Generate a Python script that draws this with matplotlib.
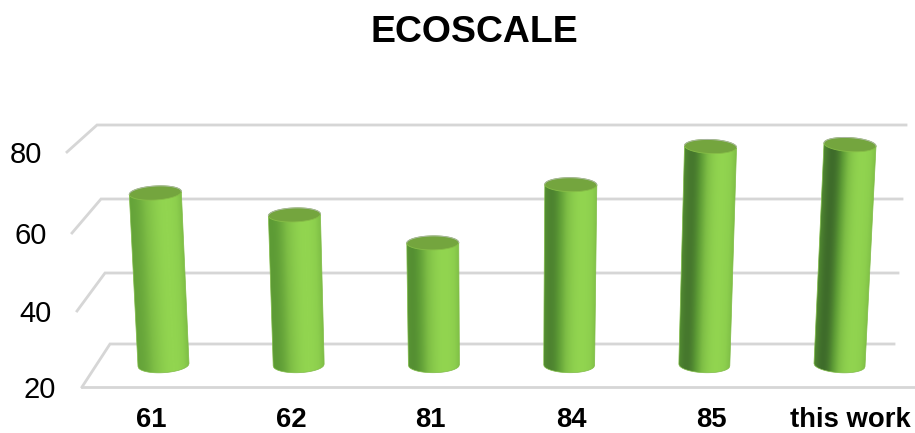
import numpy as np
import matplotlib
matplotlib.use('Agg')
import matplotlib.pyplot as plt
from matplotlib.colors import LinearSegmentedColormap
from matplotlib.patches import Polygon

categories = ['61', '62', '81', '84', '85', 'this work']
values = [65.5, 59.7, 52.3, 67.7, 77.8, 78.3]
y_ticks = [20, 40, 60, 80]

plt.rcParams['font.family'] = ['Liberation Sans', 'DejaVu Sans']

W, H = 915, 433
fig = plt.figure(figsize=(W / 100, H / 100), dpi=100)

# axes box in pixels, x data is the category index, y data is the value on the bars' plane
left, right, bottom, top = 80, 895, 387, 100
ax = fig.add_axes([left / W, 1 - bottom / H, (right - left) / W, (bottom - top) / H])
x0, dx = 163.5, 135.2
y20, dy = 365.0, 3.78
xlim = ((left - x0) / dx, (right - x0) / dx)
ylim = (20 + (y20 - bottom) / dy, 20 + (y20 - top) / dy)
for s in ax.spines.values():
    s.set_visible(False)


def px_x(px):
    return (px - x0) / dx


def px_y(px):
    return 20 + (y20 - px) / dy


# walls: back line height and ends for each tick
grid = '#d6d6d6'
back_y = {20: 344, 40: 273, 60: 199, 80: 125}
back_l = {20: 110, 40: 105, 60: 101, 80: 97}
back_r = {20: 894, 40: 898, 60: 902, 80: 906}
front_y = {20: 387, 40: 311, 60: 233, 80: 152}
front_x = {20: 82, 40: 77, 60: 72, 80: 67}
label_r = {20: 56, 40: 52, 60: 47, 80: 42}
for v in y_ticks:
    ax.plot([px_x(front_x[v]), px_x(back_l[v]), px_x(back_r[v])],
            [px_y(front_y[v]), px_y(back_y[v]), px_y(back_y[v])],
            color=grid, lw=2.0, clip_on=False, solid_joinstyle='miter', zorder=1)
ax.plot([px_x(82), px_x(915)], [px_y(387), px_y(387)], color=grid, lw=2.0, clip_on=False, zorder=1)

# cylinders
cmap = LinearSegmentedColormap.from_list('cyl', ['#3d6a2a', '#5c9a35', '#7dbd45', '#92d550'])
half_w = 25.5 / dx
minor = 7.0 / dy
u = np.linspace(-1, 1, 81)

for i, v in enumerate(values):
    off = i - 2.5
    lean = 0.072 * off / dx        # sideways drift per unit of height
    tilt = 0.6 * off / dy          # ellipse tilt at the rim
    cx_top = i + lean * (v - 20)
    hw_top = half_w * 1.02

    low = 20 - minor * np.sqrt(1 - u ** 2) * 1.1 - tilt * u
    xs_bot = i + half_w * u
    xs_top = cx_top + hw_top * u
    outline = np.column_stack([np.r_[xs_bot, xs_top[::-1]], np.r_[low, (v - tilt * u)[::-1]]])
    body = Polygon(outline, closed=True, fc='none', ec='#7fbb46', lw=0.5,
                   clip_on=False, zorder=3.5)
    ax.add_patch(body)

    # shade every pixel by its place across the cylinder
    gx = np.linspace(outline[:, 0].min(), outline[:, 0].max(), 120)
    gy = np.linspace(low.min(), v + 1, 200)
    XX, YY = np.meshgrid(gx, gy)
    frac = (YY - 20) / (v - 20)
    U = (XX - (i + lean * (YY - 20))) / (half_w + (hw_top - half_w) * frac)
    depth = 0.16 + 0.095 * i
    dark_at = -0.85 + 0.05 * i
    shade = 0.45 * (1 - np.exp(-((U - 0.4) / 0.85) ** 2))
    shade += depth * np.exp(-((U - dark_at) / 0.55) ** 2)
    shade += 0.12 * np.clip(U - 0.8, 0, 1) / 0.2
    im = ax.imshow(np.clip(1 - shade, 0, 1), cmap=cmap, vmin=0, vmax=1, origin='lower',
                   extent=(gx[0], gx[-1], gy[0], gy[-1]), aspect='auto',
                   interpolation='bilinear', zorder=3)
    im.set_clip_path(body)

    # top cap
    th = np.linspace(0, 2 * np.pi, 120)
    cap_x = cx_top + hw_top * np.cos(th)
    cap_y = v + minor * np.sin(th) - tilt * np.cos(th)
    ax.fill(cap_x, cap_y, color='#74a53e', lw=0.6, ec='#86bd47', clip_on=False, zorder=4)
    back = th < np.pi
    ax.plot(cap_x[back], cap_y[back], color='#a9b5a0', lw=0.7, clip_on=False, zorder=4.5)

ax.set_xlim(xlim)
ax.set_ylim(ylim)

# perspective puts the labels apart from the bar feet
ax.set_xticks([px_x(p) for p in [151, 291, 430, 571, 711, 850]])
ax.set_xticklabels(categories, fontsize=19.8, fontweight='bold', color='black')
ax.tick_params(axis='x', length=0, pad=14.5)

ax.set_yticks([px_y(front_y[v]) for v in y_ticks])
ax.set_yticklabels([str(v) for v in y_ticks], fontsize=21, color='black')
ax.tick_params(axis='y', length=0)
for tick, v in zip(ax.yaxis.get_major_ticks(), y_ticks):
    tick.set_pad((left - label_r[v]) * 0.72)

fig.text(474 / W, 1 - 32.5 / H, 'ECOSCALE', fontsize=26.9, fontweight='bold',
         ha='center', va='center', color='black')

fig.savefig('out.png', dpi=100)
